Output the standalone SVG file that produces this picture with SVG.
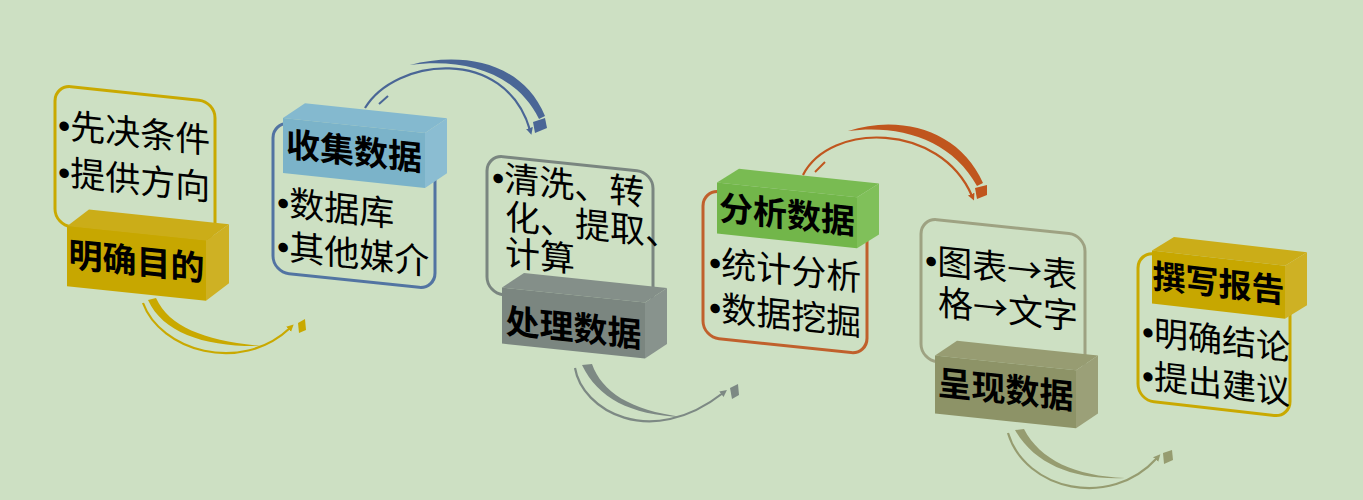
<svg xmlns="http://www.w3.org/2000/svg" width="1363" height="500" viewBox="0 0 1363 500">
<defs>
<style>
.txt{font-family:"Liberation Sans","Noto Sans CJK SC",sans-serif;font-size:35px;fill:#000}
.cjk{font-family:"Noto Sans CJK SC",sans-serif}
.lbl{font-family:"Noto Sans CJK SC",sans-serif;font-size:34px;font-weight:700;fill:#000;text-anchor:middle}
.ol{fill:none;stroke-width:3}
.thin{fill:none;stroke-width:2.2}
.gold{fill:#C9A900;stroke:#C9A900}
.blue{fill:#4A6696;stroke:#4A6696}
.gray{fill:#7D8984;stroke:#7D8984}
.rust{fill:#C0561E;stroke:#C0561E}
.olive{fill:#969C70;stroke:#969C70}
</style>
<marker id="hGold" markerUnits="userSpaceOnUse" markerWidth="10" markerHeight="10" viewBox="0 -5 10 10" refX="2" refY="0" orient="auto"><path d="M0,-3.5 L7,0 L0,3.5 Z" fill="#C9A900"/></marker>
<marker id="hBlue" markerUnits="userSpaceOnUse" markerWidth="10" markerHeight="10" viewBox="0 -5 10 10" refX="2" refY="0" orient="auto"><path d="M0,-3.5 L7,0 L0,3.5 Z" fill="#4A6696"/></marker>
<marker id="hGray" markerUnits="userSpaceOnUse" markerWidth="10" markerHeight="10" viewBox="0 -5 10 10" refX="2" refY="0" orient="auto"><path d="M0,-3.5 L7,0 L0,3.5 Z" fill="#7D8984"/></marker>
<marker id="hRust" markerUnits="userSpaceOnUse" markerWidth="10" markerHeight="10" viewBox="0 -5 10 10" refX="2" refY="0" orient="auto"><path d="M0,-3.5 L7,0 L0,3.5 Z" fill="#C0561E"/></marker>
<marker id="hOlive" markerUnits="userSpaceOnUse" markerWidth="10" markerHeight="10" viewBox="0 -5 10 10" refX="2" refY="0" orient="auto"><path d="M0,-3.5 L7,0 L0,3.5 Z" fill="#969C70"/></marker>
</defs>
<rect x="0" y="0" width="1363" height="500" fill="#CDE0C3"/>

<g id="node1" transform="translate(55,85) skewY(6)">
<rect class="ol" x="0" y="0" width="160" height="140" rx="16" stroke="#C9A900"/>
<polygon points="12,140 34,121 174,121 151,140" fill="#CBAD18"/>
<polygon points="151,140 174,121 174,180 151,200" fill="#CEB124"/>
<rect x="12" y="140" width="139" height="60" fill="#C7A700"/>
<text class="lbl" x="81.5" y="180">明确目的</text>
<text class="txt" x="3" y="52">•先决条件</text>
<text class="txt" x="3" y="99">•提供方向</text>
</g>

<g id="node2" transform="translate(273,122) skewY(6)">
<rect class="ol" x="0" y="0" width="162" height="150" rx="16" stroke="#5274A2"/>
<polygon points="10,-5 32,-22 174,-22 152,-5" fill="#84B9CF"/>
<polygon points="152,-5 174,-22 174,33 152,50" fill="#8BBDD2"/>
<rect x="10" y="-5" width="142" height="55" fill="#7BB3C9"/>
<text class="lbl" x="81" y="33">收集数据</text>
<text class="txt" x="4" y="92">•数据库</text>
<text class="txt" x="4" y="136">•其他媒介</text>
</g>

<g id="node3" transform="translate(487,155) skewY(6)">
<rect class="ol" x="0" y="0" width="166" height="138" rx="16" stroke="#7A8680"/>
<polygon points="15,131 37,114 180,114 158,131" fill="#848F89"/>
<polygon points="158,131 180,114 180,170 158,187" fill="#88938D"/>
<rect x="15" y="131" width="143" height="56" fill="#7B8680"/>
<text class="lbl" x="86.5" y="176">处理数据</text>
<text class="txt" x="5" y="34">•清洗、转</text>
<text class="txt" x="18" y="72">化、提取、</text>
<text class="txt" x="18" y="108">计算</text>
</g>

<g id="node4" transform="translate(703,190) skewY(6)">
<rect class="ol" x="0" y="0" width="164" height="147" rx="16" stroke="#C0602C"/>
<polygon points="14,-9 36,-25 176,-25 154,-9" fill="#79BB52"/>
<polygon points="154,-9 176,-25 176,26 154,42" fill="#80C05A"/>
<rect x="14" y="-9" width="140" height="51" fill="#72B64A"/>
<text class="lbl" x="84" y="28">分析数据</text>
<text class="txt" x="6" y="84">•统计分析</text>
<text class="txt" x="6" y="129">•数据挖掘</text>
</g>

<g id="node5" transform="translate(921,218) skewY(6)">
<rect class="ol" x="0" y="0" width="164" height="142" rx="16" stroke="#9EA282"/>
<polygon points="14,136 36,119 177,119 155,136" fill="#979C72"/>
<polygon points="155,136 177,119 177,177 155,194" fill="#9BA078"/>
<rect x="14" y="136" width="141" height="58" fill="#8D9367"/>
<text class="lbl" x="84.5" y="175">呈现数据</text>
<text class="txt" x="4" y="54">•<tspan class="cjk">图表→表</tspan></text>
<text class="txt cjk" x="17" y="95">格→文字</text>
</g>

<g id="node6" transform="translate(1138,252) skewY(6.5)">
<rect class="ol" x="0" y="0" width="152" height="148" rx="16" stroke="#C9A900"/>
<polygon points="14,-3 36,-19 169,-19 147,-3" fill="#CBAD18"/>
<polygon points="147,-3 169,-19 169,34 147,50" fill="#CEB124"/>
<rect x="14" y="-3" width="133" height="53" fill="#C7A700"/>
<text class="lbl" x="80.5" y="34" style="font-size:33px">撰写报告</text>
<text class="txt" x="4" y="91" style="font-size:34px">•明确结论</text>
<text class="txt" x="4" y="135" style="font-size:34px">•提出建议</text>
</g>

<g id="connectors">
<path class="thin gold" style="fill:none" d="M143,303 C160,350 240,375 290,328" marker-end="url(#hGold)"/>
<path class="gold" style="stroke:none" d="M148,300 L156,298 C170,328 205,340 260,346 C205,347 163,333 148,300 Z"/>
<polygon class="gold" style="stroke:none" points="298,323 305,319 306,330 299,333"/>

<path class="thin blue" style="fill:none" d="M365,108 C395,58 505,45 530,130" marker-end="url(#hBlue)"/>
<line class="blue" x1="379" y1="104" x2="388" y2="96" stroke-width="2"/>
<path class="blue" style="stroke:none" d="M410,65 C460,52 522,60 545,116 L539,119 C515,70 460,58 410,65 Z"/>
<polygon class="blue" style="stroke:none" points="533,122 545,118 547,128 535,133"/>

<path class="thin gray" style="fill:none" d="M575,368 C582,410 650,450 723,393" marker-end="url(#hGray)"/>
<path class="gray" style="stroke:none" d="M582,365 L592,364 C602,392 630,410 682,417 C630,415 598,398 582,365 Z"/>
<polygon class="gray" style="stroke:none" points="730,388 738,384 739,395 732,399"/>

<path class="thin rust" style="fill:none" d="M803,175 C830,122 940,122 972,196" marker-end="url(#hRust)"/>
<line class="rust" x1="815" y1="172" x2="825" y2="162" stroke-width="2"/>
<path class="rust" style="stroke:none" d="M848,131 C900,114 960,130 983,183 L977,186 C952,140 900,124 848,131 Z"/>
<polygon class="rust" style="stroke:none" points="975,188 987,185 987,195 977,199"/>

<path class="thin olive" style="fill:none" d="M1008,433 C1025,490 1110,510 1157,458" marker-end="url(#hOlive)"/>
<path class="olive" style="stroke:none" d="M1015,430 L1024,429 C1040,460 1075,476 1125,478 C1075,480 1035,465 1015,430 Z"/>
<polygon class="olive" style="stroke:none" points="1163,453 1172,450 1173,460 1164,464"/>
</g>
</svg>
